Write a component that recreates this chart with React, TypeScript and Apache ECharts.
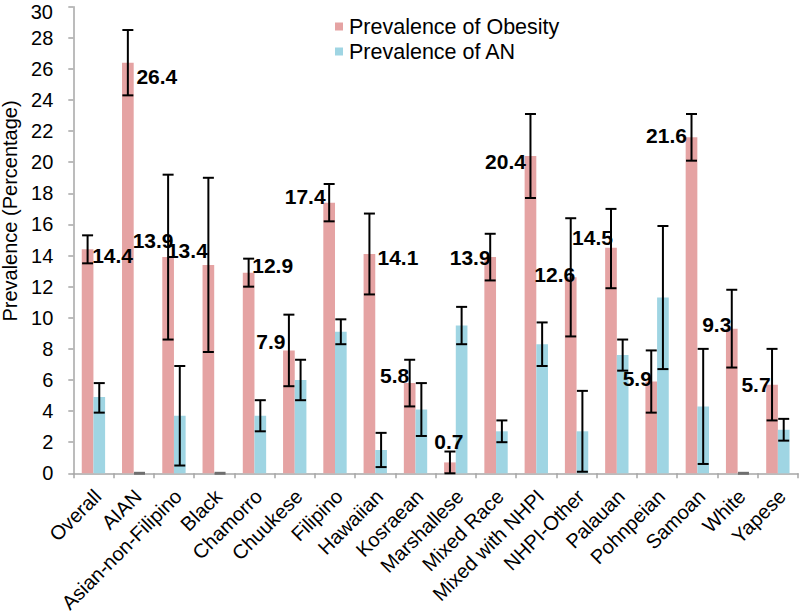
import React, { useEffect, useRef } from "react";
import * as echarts from "echarts";

const categories = [
  "Overall", "AIAN", "Asian-non-Filipino", "Black", "Chamorro", "Chuukese",
  "Filipino", "Hawaiian", "Kosraean", "Marshallese", "Mixed Race",
  "Mixed with NHPI", "NHPI-Other", "Palauan", "Pohnpeian", "Samoan", "White", "Yapese",
];

const obesity = [14.4, 26.4, 13.9, 13.4, 12.9, 7.9, 17.4, 14.1, 5.8, 0.7, 13.9, 20.4, 12.6, 14.5, 5.9, 21.6, 9.3, 5.7];
const obesityLow = [13.5, 24.3, 8.6, 7.8, 12.0, 5.6, 16.2, 11.5, 4.3, 0.0, 12.4, 17.7, 8.8, 11.9, 3.9, 20.1, 6.8, 3.4];
const obesityHigh = [15.3, 28.5, 19.2, 19.0, 13.8, 10.2, 18.6, 16.7, 7.3, 1.4, 15.4, 23.1, 16.4, 17.0, 7.9, 23.1, 11.8, 8.0];

const an = [4.9, 0, 3.7, 0, 3.7, 6.0, 9.1, 1.5, 4.1, 9.5, 2.7, 8.3, 2.7, 7.6, 11.3, 4.3, 0, 2.8];
const anLow = [3.9, 0, 0.5, 0, 2.7, 4.7, 8.3, 0.4, 2.4, 8.3, 2.0, 6.9, 0.1, 6.6, 6.7, 0.6, 0, 2.1];
const anHigh = [5.8, 0, 6.9, 0, 4.7, 7.3, 9.9, 2.6, 5.8, 10.7, 3.4, 9.7, 5.3, 8.6, 15.9, 8.0, 0, 3.5];

const yTicks = [0, 2, 4, 6, 8, 10, 12, 14, 16, 18, 20, 22, 24, 26, 28, 30];

// pixel offsets of each obesity value label from its bar's top centre
const labelDx = [25, 29, -15, -21, 24, -18, -24, 28.5, -15, -1, -20, -25, -16, -18.5, -14, -25, -15, -16];
const labelDy = [6.6, 14, -17, -14, -7, -8.5, -6, 4, -8, -20.7, 0, 5, -2.4, -10, -2.6, -1.7, -3.7, 0];

const FONT = "'Liberation Sans', Arial, Helvetica, sans-serif";
const PINK = "#E5A3A3";
const BLUE = "#9FD5E3";
const BAR_FRAC = 0.29;

function errorRender(sign: number) {
  return (params: any, api: any) => {
    const i = api.value(0);
    const lo = api.value(1);
    const hi = api.value(2);
    const w = api.size([1, 0])[0];
    const off = sign * w * BAR_FRAC / 2;
    const top = api.coord([i, hi]);
    const bot = api.coord([i, lo]);
    const x = top[0] + off;
    const half = 5.5;
    if (lo === 0 && hi === 0) {
      return {
        type: "line",
        shape: { x1: x - half, y1: top[1], x2: x + half, y2: top[1] },
        style: { stroke: "#6f6f6f", lineWidth: 3 },
      };
    }
    const st = { stroke: "#000", lineWidth: 2 };
    return {
      type: "group",
      children: [
        { type: "line", shape: { x1: x, y1: top[1], x2: x, y2: bot[1] }, style: st },
        { type: "line", shape: { x1: x - half, y1: top[1], x2: x + half, y2: top[1] }, style: st },
        { type: "line", shape: { x1: x - half, y1: bot[1], x2: x + half, y2: bot[1] }, style: st },
      ],
    };
  };
}

export default function App() {
  const ref = useRef<HTMLDivElement>(null);
  useEffect(() => {
    document.body.style.margin = "0";
    const chart = echarts.init(ref.current!, null, { renderer: "svg" });
    const option: any = {
      animation: false,
      backgroundColor: "#fff",
      textStyle: { fontFamily: FONT },
      grid: { left: 73.3, right: 2, top: 6.7, bottom: 142.7, containLabel: false, outerBoundsMode: "none" },
      legend: {
        data: ["Prevalence of Obesity", "Prevalence of AN"],
        orient: "vertical",
        left: 335,
        top: 14,
        padding: 0,
        itemGap: 0,
        itemWidth: 8,
        itemHeight: 8,
        icon: "rect",
        textStyle: { fontSize: 21.5, color: "#000", fontFamily: FONT, lineHeight: 25, padding: [0, 0, 0, 1] },
      },
      xAxis: {
        type: "category",
        data: categories,
        boundaryGap: true,
        axisLine: { lineStyle: { color: "#A6A6A6", width: 1.5 } },
        axisTick: { show: true, interval: 0, length: 5, lineStyle: { color: "#A6A6A6", width: 1.5 } },
        axisLabel: {
          interval: 0,
          rotate: 45,
          fontSize: 20,
          color: "#000",
          fontFamily: FONT,
          margin: -3,
          verticalAlign: "top",
          lineHeight: 38,
          padding: [0, 13, 0, 0],
          hideOverlap: false,
        },
      },
      yAxis: {
        type: "value",
        min: 0,
        max: 30,
        interval: 2,
        splitLine: { show: false },
        axisLine: { show: true, lineStyle: { color: "#A6A6A6", width: 1.5 } },
        axisTick: { show: true, length: 5, lineStyle: { color: "#A6A6A6", width: 1.5 } },
        axisLabel: {
          fontSize: 20,
          color: "#000",
          fontFamily: FONT,
          margin: 20,
          formatter: (v: number) => (v === yTicks[yTicks.length - 1] ? "" : String(v)),
        },
      },
      graphic: [
        {
          type: "text",
          x: 53,
          y: 12,
          style: {
            text: String(yTicks[yTicks.length - 1]),
            fontSize: 20,
            fontFamily: FONT,
            fill: "#000",
            align: "right",
            verticalAlign: "middle",
            textAlign: "right",
            textVerticalAlign: "middle",
          },
        },
        {
          type: "text",
          x: 10,
          y: 211,
          rotation: Math.PI / 2,
          style: {
            text: "Prevalence (Percentage)",
            fontSize: 20,
            fontFamily: FONT,
            fill: "#000",
            align: "center",
            verticalAlign: "middle",
            textAlign: "center",
            textVerticalAlign: "middle",
          },
        },
      ],
      series: [
        {
          name: "Prevalence of Obesity",
          type: "bar",
          data: obesity,
          barWidth: BAR_FRAC * 100 + "%",
          barGap: "0%",
          itemStyle: { color: PINK },
        },
        {
          name: "Prevalence of AN",
          type: "bar",
          data: an,
          barWidth: BAR_FRAC * 100 + "%",
          barGap: "0%",
          itemStyle: { color: BLUE },
        },
        {
          name: "obesityErr",
          type: "custom",
          renderItem: errorRender(-1),
          data: categories.map((_, i) => [i, obesityLow[i], obesityHigh[i]]),
          encode: { x: 0, y: [1, 2] },
          z: 5,
        },
        {
          name: "anErr",
          type: "custom",
          renderItem: errorRender(1),
          data: categories.map((_, i) => [i, anLow[i], anHigh[i]]),
          encode: { x: 0, y: [1, 2] },
          z: 5,
        },
        {
          name: "obesityLabels",
          type: "custom",
          z: 10,
          data: categories.map((_, i) => [i, obesity[i]]),
          encode: { x: 0, y: 1 },
          renderItem: (params: any, api: any) => {
            const i = api.value(0);
            const v = api.value(1);
            const p = api.coord([i, v]);
            const w = api.size([1, 0])[0];
            const x = p[0] - (w * BAR_FRAC) / 2 + labelDx[i];
            const y = p[1] + labelDy[i];
            return {
              type: "text",
              x,
              y,
              style: {
                text: v.toFixed(1),
                fontSize: 21,
                fontWeight: "bold",
                fontFamily: FONT,
                fill: "#000",
                align: "center",
                verticalAlign: "middle",
                textAlign: "center",
                textVerticalAlign: "middle",
              },
            };
          },
        },
      ],
    };
    chart.setOption(option);
    return () => chart.dispose();
  }, []);
  return <div ref={ref} style={{ width: 800, height: 616 }} />;
}
